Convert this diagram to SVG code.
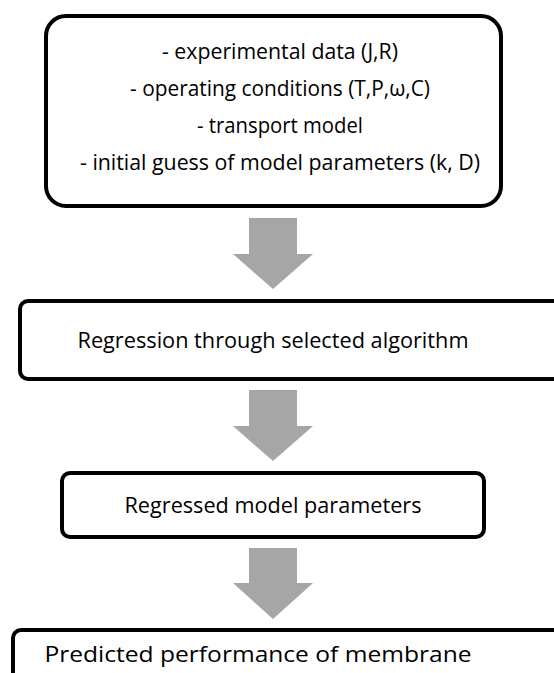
<svg xmlns="http://www.w3.org/2000/svg" width="554" height="673" viewBox="0 0 554 673">
<style>
.box{fill:#fff;stroke:#000;stroke-width:4}
.t{font-family:"Open Sans","Liberation Sans",sans-serif;font-size:21.5px;fill:#000;text-anchor:middle}
.arr{fill:#a6a6a6}
</style>
<rect width="554" height="673" fill="#fff"/>
<g id="connectors">
<polygon class="arr" points="249,218 297,218 297,254 313,254 273,289 233,254 249,254"/>
<polygon class="arr" points="249,390 297,390 297,426 313,426 273,461 233,426 249,426"/>
<polygon class="arr" points="249,548 297,548 297,583 313,583 273,619 233,583 249,583"/>
</g>
<g id="inputs">
<rect class="box" x="46" y="16" width="455" height="190" rx="20"/>
<text class="t" x="280" y="59" textLength="236" lengthAdjust="spacingAndGlyphs">- experimental data (J,R)</text>
<text class="t" x="280" y="96" textLength="300" lengthAdjust="spacingAndGlyphs">- operating conditions (T,P,ω,C)</text>
<text class="t" x="280" y="133" textLength="166" lengthAdjust="spacingAndGlyphs">- transport model</text>
<text class="t" x="280" y="170" textLength="400" lengthAdjust="spacingAndGlyphs">- initial guess of model parameters (k, D)</text>
</g>
<g id="regression">
<rect class="box" x="20" y="301" width="560" height="78" rx="8"/>
<text class="t" x="273" y="348" textLength="391" lengthAdjust="spacingAndGlyphs">Regression through selected algorithm</text>
</g>
<g id="regressed">
<rect class="box" x="62" y="473" width="422" height="64" rx="8"/>
<text class="t" x="273" y="513" textLength="297" lengthAdjust="spacingAndGlyphs">Regressed model parameters</text>
</g>
<g id="predicted">
<rect class="box" x="13" y="630" width="580" height="80" rx="8"/>
<text class="t" x="258" y="662" textLength="427" lengthAdjust="spacingAndGlyphs">Predicted performance of membrane</text>
</g>
</svg>
